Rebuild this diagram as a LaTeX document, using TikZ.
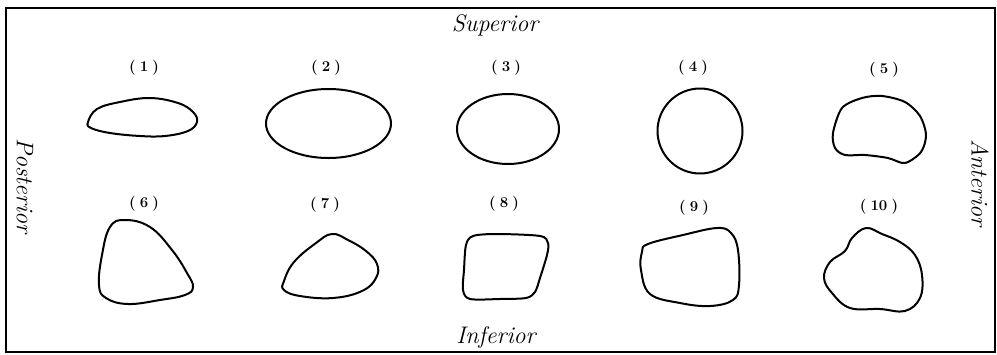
\documentclass[tikz,border=0pt]{standalone}
\usepackage{tikz}
\usetikzlibrary{positioning}

\tikzset{
	outline/.style={line width=2pt, line join=round},
	numlabel/.style={font=\fontsize{15}{15}\selectfont\bfseries, inner sep=0pt},
	sidelabel/.style={font=\fontsize{24}{24}\selectfont\itshape, inner sep=0pt}
}

\begin{document}
\begin{tikzpicture}[x=1pt, y=-1pt]
		\useasboundingbox (0,0) rectangle (997,354);
		
		% 边框
		\draw[line width=1.4pt] (6,8) rectangle (995,352);
		
		% 方位
		\node[sidelabel] (sup) at (495,25) {Superior};
		\node[sidelabel] (inf) at (496,337) {Inferior};
		\node[sidelabel, rotate=-90] (post) at (25,186) {Posterior};
		\node[sidelabel, rotate=-90] (ant) at (980,183) {Anterior};
		
		% 编号
		\foreach \n/\x/\y in {1/144/68, 2/326/68, 3/506/68, 4/693/68, 5/884/70,
			6/144/204, 7/325/205, 8/504/204, 9/694/208, 10/879/207}
			\node[numlabel] (l\n) at (\x,\y) {(\;\n\;)};
		
		% 上排截面
		\draw[outline] plot[smooth cycle, tension=0.65] coordinates {(88,122) (97,109) (120,102) (150,98) (178,103) (193,112) (197,122) (188,131) (165,136) (140,136) (110,133) (91,128)};
		\draw[outline] (328.5,123.5) ellipse (62.5 and 34.5);
		\draw[outline] (508,129) ellipse (51 and 35);
		\draw[outline] (700,131) circle (42.5);
		\draw[outline] plot[smooth cycle] coordinates {(833,133) (842,108) (862,98) (882,96) (905,102) (920,116) (926,135) (921,152) (905,163) (888,158) (865,155) (845,155) (835,148)};
		
		% 下排截面
		\draw[outline] plot[smooth cycle, tension=0.7] coordinates {(125,220) (150,227) (172,250) (187,273) (193,287) (185,295) (160,300) (128,304) (106,298) (99,285) (102,255) (110,227)};
		\draw[outline] plot[smooth cycle, tension=0.7] coordinates {(332,234) (348,240) (366,251) (377,264) (376,278) (362,291) (333,298) (300,296) (284,290) (284,281) (294,262) (316,243)};
		\draw[outline] plot[smooth cycle] coordinates {(473,236) (497,234) (540,236) (548,243) (547,255) (540,278) (535,292) (526,298) (500,299) (470,299) (463,290) (464,270) (466,245)};
		\draw[outline] plot[smooth cycle, tension=0.65] coordinates {(648,244) (683,235) (717,228) (731,233) (738,250) (739,285) (733,300) (710,306) (680,303) (650,294) (641,270) (642,252)};
		\draw[outline] plot[smooth cycle, tension=0.65] coordinates {(866,228) (882,234) (900,242) (915,255) (922,275) (920,298) (905,311) (880,309) (850,308) (832,293) (824,278) (830,262) (845,251) (852,238)};
	\end{tikzpicture}
\end{document}
